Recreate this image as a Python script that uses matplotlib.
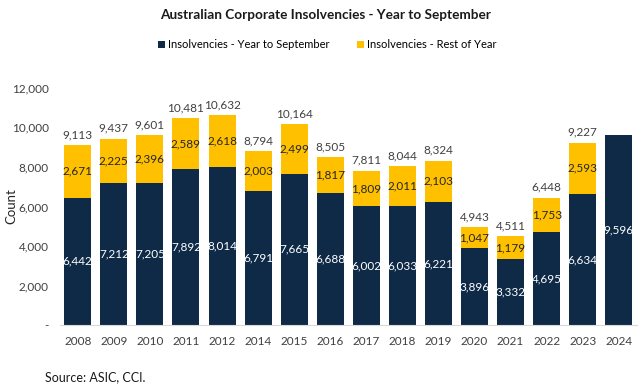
import matplotlib.pyplot as plt
import numpy as np

plt.rcParams['font.family'] = ['Lato', 'DejaVu Sans']

years = ['2008', '2009', '2010', '2011', '2012', '2014', '2015', '2016',
         '2017', '2018', '2019', '2020', '2021', '2022', '2023', '2024']
ytd = [6442, 7212, 7205, 7892, 8014, 6791, 7665, 6688,
       6002, 6033, 6221, 3896, 3332, 4695, 6634, 9596]
rest = [2671, 2225, 2396, 2589, 2618, 2003, 2499, 1817,
        1809, 2011, 2103, 1047, 1179, 1753, 2593, 0]

navy = '#0f2a47'
gold = '#ffc000'

fig = plt.figure(figsize=(6.42, 3.87), dpi=100)
ax = fig.add_axes([0.093, 0.160, 0.899, 0.613])

x = np.arange(len(years))
ytd_a = np.array(ytd)
rest_a = np.array(rest)
total = ytd_a + rest_a

ax.bar(x, ytd_a, width=0.75, color=navy, label='Insolvencies - Year to September')
ax.bar(x, rest_a, width=0.75, bottom=ytd_a, color=gold, label='Insolvencies - Rest of Year')

for i in range(len(x)):
    ax.text(x[i], ytd_a[i] / 2, f'{ytd_a[i]:,}', ha='center', va='center',
            color='white', fontsize=8.5)
    if rest_a[i] > 0:
        ax.text(x[i], ytd_a[i] + rest_a[i] / 2, f'{rest_a[i]:,}', ha='center',
                va='center', color='#262626', fontsize=8.5)
        ax.text(x[i], total[i] + 250, f'{total[i]:,}', ha='center', va='bottom',
                color='#404040', fontsize=8.5)

ax.set_xlim(-0.5, len(years) - 0.5)
ax.set_ylim(0, 12000)
ax.set_xticks(x)
ax.set_xticklabels(years)
yt = np.arange(0, 12001, 2000)
ax.set_yticks(yt)
ax.set_yticklabels(['-'] + [f'{v:,}' for v in yt[1:]])
ax.tick_params(axis='both', length=0, labelsize=8.5, colors='#404040')
ax.tick_params(axis='x', pad=8)
ax.tick_params(axis='y', pad=8)
ax.set_ylabel('Count', fontsize=9.5, color='#262626')
ax.yaxis.set_label_coords(-0.074, 0.5)

for s in ['top', 'right', 'left']:
    ax.spines[s].set_visible(False)
ax.spines['bottom'].set_color('#d9d9d9')

fig.text(0.507, 0.96, 'Australian Corporate Insolvencies - Year to September',
         ha='center', va='center', fontsize=9.8, fontweight='bold', color='#1a1a1a')
fig.legend(loc='center', bbox_to_anchor=(0.51, 0.885), ncol=2, frameon=False,
           fontsize=8, handlelength=0.6, handleheight=0.6, columnspacing=2.5,
           handletextpad=0.3)
fig.text(0.07, 0.025, 'Source: ASIC, CCI.', ha='left', va='center', fontsize=9,
         color='#1a1a1a')

fig.savefig('out.png', dpi=100)
